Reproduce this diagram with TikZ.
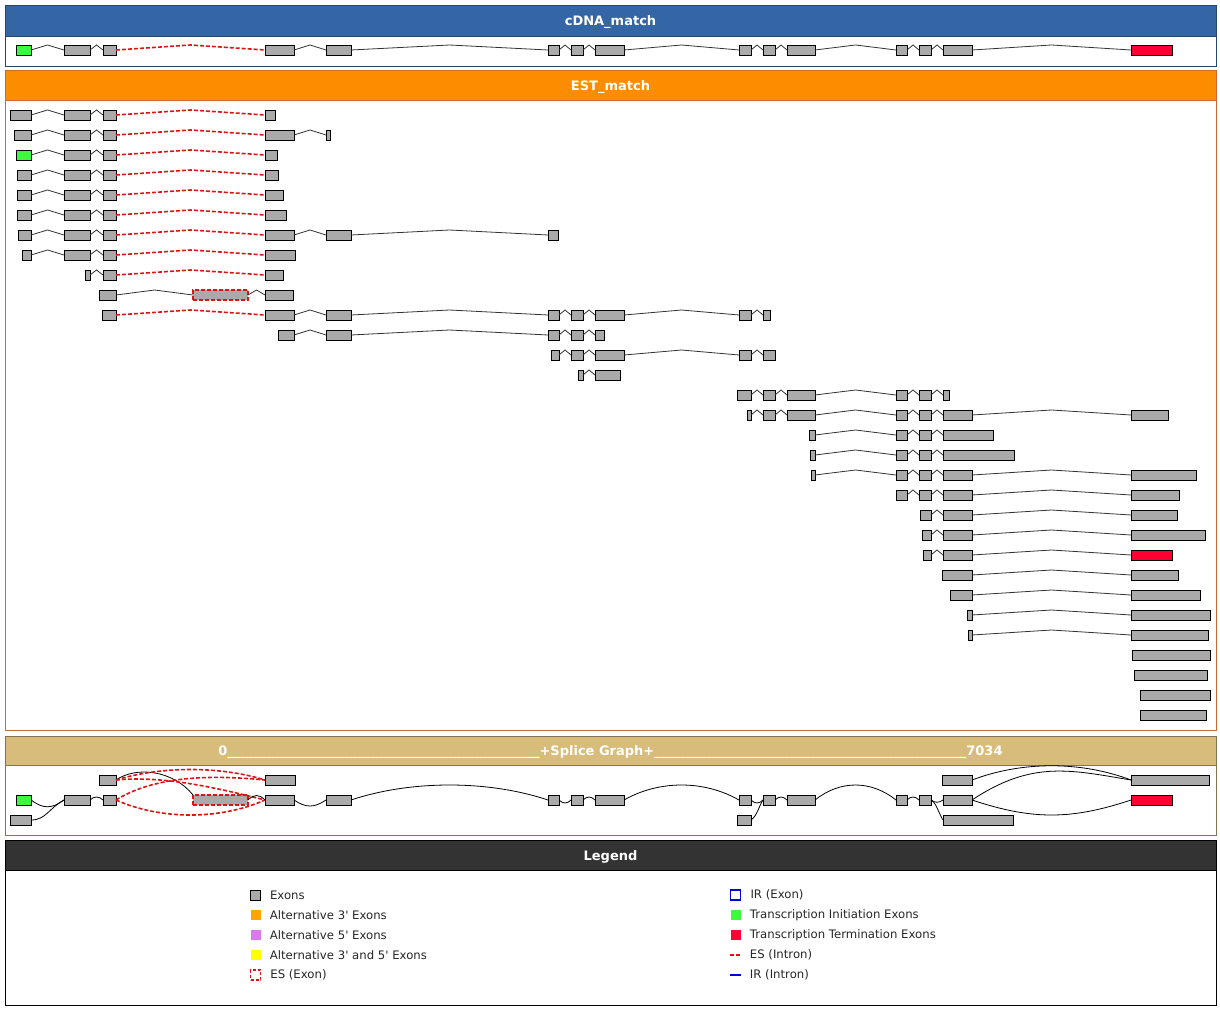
\documentclass[tikz,border=0pt]{standalone}
\usepackage{fontspec}
\setmainfont{DejaVu Sans}
\usetikzlibrary{positioning, calc}

\definecolor{exongray}{RGB}{170,170,170}
\definecolor{initgreen}{RGB}{60,250,60}
\definecolor{termred}{RGB}{255,0,51}
\definecolor{skipred}{RGB}{220,20,20}
\definecolor{cdnablue}{RGB}{52,101,164}
\definecolor{cdnaborder}{RGB}{40,70,105}
\definecolor{estorange}{RGB}{252,140,0}
\definecolor{estborder}{RGB}{205,105,50}
\definecolor{splicetan}{RGB}{216,188,124}
\definecolor{spliceborder}{RGB}{130,115,85}
\definecolor{legdark}{RGB}{51,51,51}
\definecolor{altorange}{RGB}{255,165,0}
\definecolor{altviolet}{RGB}{221,119,238}
\definecolor{altyellow}{RGB}{255,255,0}
\definecolor{irblue}{RGB}{0,0,220}

\tikzset{%
  % exons and introns
         exon/.style = {rectangle, draw=black, fill=exongray, line width=0.8pt,
                        inner sep=0pt, outer sep=0pt, minimum height=10pt},
     initexon/.style = {exon, fill=initgreen},
     termexon/.style = {exon, fill=termred},
     skipexon/.style = {exon, draw=skipred, line width=1.4pt, dash pattern=on 4pt off 2pt},
       intron/.style = {draw=black!80, line width=0.8pt},
   skipintron/.style = {draw=skipred, line width=1.6pt, dash pattern=on 4pt off 2pt},
       sgedge/.style = {draw=black, line width=0.8pt},
  % panels and legend
       header/.style = {font=\fontsize{13}{15}\selectfont\bfseries, text=white, anchor=base},
      legicon/.style = {rectangle, inner sep=0pt, minimum width=10pt, minimum height=10pt},
      legtext/.style = {font=\fontsize{11.7}{13}\selectfont, text=black!85, inner sep=0pt},
}

% exon: [style]{name}{x start}{x end}{y}
\newcommand{\ex}[5][exon]{\node[#1, minimum width=#4-#3] (#2) at ({(#3+#4)/2},#5) {};}
% intron between two exons, peak half way
\newcommand{\intr}[3][intron]{\draw[#1] (#2.east) -- ($(#2.east)!.5!(#3.west)+(0,-5)$) -- (#3.west);}
\newcommand{\us}{\_\_\_\_\_\_\_\_}
\newcommand{\q}{\textquotesingle}

\begin{document}
\begin{tikzpicture}[x=1pt, y=-1pt]
  \useasboundingbox (0,0) rectangle (1220,1025);

  % panels
  \draw[draw=cdnaborder, line width=0.8pt] (5,5) rectangle (1216,66);
  \draw[fill=cdnablue, draw=cdnaborder, line width=0.8pt] (5,5) rectangle (1216,36);
  \node[header] (cdnatitle) at (610.5,25.5) {cDNA\_match};

  \draw[draw=estborder, line width=0.8pt] (5,70) rectangle (1216,730);
  \draw[fill=estorange, draw=estborder, line width=0.8pt] (5,70) rectangle (1216,100);
  \node[header] (esttitle) at (610.5,90.5) {EST\_match};

  \draw[draw=spliceborder, line width=0.8pt] (5,736) rectangle (1216,835);
  \draw[fill=splicetan, draw=spliceborder, line width=0.8pt] (5,736) rectangle (1216,765);
  \node[header] (splicetitle) at (610.5,755.5)
       {0\us\us\us\us\us\us+Splice Graph+\us\us\us\us\us\us7034};

  \draw[draw=black, line width=0.8pt] (5,840) rectangle (1216,1005);
  \draw[fill=legdark, draw=black, line width=0.8pt] (5,840) rectangle (1216,870);
  \node[header] (legtitle) at (610.5,860.5) {Legend};

  % cDNA_match
  \ex[initexon]{c1}{16}{31}{50} \ex{c2}{64}{90}{50} \ex{c3}{103}{116}{50}
  \ex{c4}{265}{294}{50} \ex{c5}{326}{351}{50} \ex{c6}{548}{559}{50}
  \ex{c7}{571}{583}{50} \ex{c8}{595}{624}{50} \ex{c9}{739}{751}{50}
  \ex{c10}{763}{775}{50} \ex{c11}{787}{815}{50} \ex{c12}{896}{907}{50}
  \ex{c13}{919}{931}{50} \ex{c14}{943}{972}{50} \ex[termexon]{c15}{1131}{1172}{50}
  \intr{c1}{c2} \intr{c2}{c3} \intr[skipintron]{c3}{c4} \intr{c4}{c5}
  \intr{c5}{c6} \intr{c6}{c7} \intr{c7}{c8} \intr{c8}{c9} \intr{c9}{c10}
  \intr{c10}{c11} \intr{c11}{c12} \intr{c12}{c13} \intr{c13}{c14} \intr{c14}{c15}

  % EST_match
  \ex{e1a}{10}{31}{115} \ex{e1b}{64}{90}{115} \ex{e1c}{103}{116}{115} \ex{e1d}{265}{275}{115}
  \intr{e1a}{e1b} \intr{e1b}{e1c} \intr[skipintron]{e1c}{e1d}

  \ex{e2a}{14}{31}{135} \ex{e2b}{64}{90}{135} \ex{e2c}{103}{116}{135} \ex{e2d}{265}{294}{135}
  \ex{e2e}{326}{330}{135}
  \intr{e2a}{e2b} \intr{e2b}{e2c} \intr[skipintron]{e2c}{e2d} \intr{e2d}{e2e}

  \ex[initexon]{e3a}{16}{31}{155} \ex{e3b}{64}{90}{155} \ex{e3c}{103}{116}{155} \ex{e3d}{265}{277}{155}
  \intr{e3a}{e3b} \intr{e3b}{e3c} \intr[skipintron]{e3c}{e3d}

  \ex{e4a}{17}{31}{175} \ex{e4b}{64}{90}{175} \ex{e4c}{103}{116}{175} \ex{e4d}{265}{278}{175}
  \intr{e4a}{e4b} \intr{e4b}{e4c} \intr[skipintron]{e4c}{e4d}

  \ex{e5a}{17}{31}{195} \ex{e5b}{64}{90}{195} \ex{e5c}{103}{116}{195} \ex{e5d}{265}{283}{195}
  \intr{e5a}{e5b} \intr{e5b}{e5c} \intr[skipintron]{e5c}{e5d}

  \ex{e6a}{17}{31}{215} \ex{e6b}{64}{90}{215} \ex{e6c}{103}{116}{215} \ex{e6d}{265}{286}{215}
  \intr{e6a}{e6b} \intr{e6b}{e6c} \intr[skipintron]{e6c}{e6d}

  \ex{e7a}{18}{31}{235} \ex{e7b}{64}{90}{235} \ex{e7c}{103}{116}{235} \ex{e7d}{265}{294}{235}
  \ex{e7e}{326}{351}{235} \ex{e7f}{548}{558}{235}
  \intr{e7a}{e7b} \intr{e7b}{e7c} \intr[skipintron]{e7c}{e7d} \intr{e7d}{e7e} \intr{e7e}{e7f}

  \ex{e8a}{22}{31}{255} \ex{e8b}{64}{90}{255} \ex{e8c}{103}{116}{255} \ex{e8d}{265}{295}{255}
  \intr{e8a}{e8b} \intr{e8b}{e8c} \intr[skipintron]{e8c}{e8d}

  \ex{e9a}{85}{90}{275} \ex{e9b}{103}{116}{275} \ex{e9c}{265}{283}{275}
  \intr{e9a}{e9b} \intr[skipintron]{e9b}{e9c}

  \ex{e10a}{99}{116}{295} \ex[skipexon]{e10b}{193}{248}{295} \ex{e10c}{265}{293}{295}
  \intr{e10a}{e10b} \intr{e10b}{e10c}

  \ex{e11a}{102}{116}{315} \ex{e11b}{265}{294}{315} \ex{e11c}{326}{351}{315} \ex{e11d}{548}{559}{315}
  \ex{e11e}{571}{583}{315} \ex{e11f}{595}{624}{315} \ex{e11g}{739}{751}{315} \ex{e11h}{763}{770}{315}
  \intr[skipintron]{e11a}{e11b} \intr{e11b}{e11c} \intr{e11c}{e11d} \intr{e11d}{e11e}
  \intr{e11e}{e11f} \intr{e11f}{e11g} \intr{e11g}{e11h}

  \ex{e12a}{278}{294}{335} \ex{e12b}{326}{351}{335} \ex{e12c}{548}{559}{335} \ex{e12d}{571}{583}{335}
  \ex{e12e}{595}{604}{335}
  \intr{e12a}{e12b} \intr{e12b}{e12c} \intr{e12c}{e12d} \intr{e12d}{e12e}

  \ex{e13a}{551}{559}{355} \ex{e13b}{571}{583}{355} \ex{e13c}{595}{624}{355} \ex{e13d}{739}{751}{355}
  \ex{e13e}{763}{775}{355}
  \intr{e13a}{e13b} \intr{e13b}{e13c} \intr{e13c}{e13d} \intr{e13d}{e13e}

  \ex{e14a}{578}{583}{375} \ex{e14b}{595}{620}{375}
  \intr{e14a}{e14b}

  \ex{e15a}{737}{751}{395} \ex{e15b}{763}{775}{395} \ex{e15c}{787}{815}{395} \ex{e15d}{896}{907}{395}
  \ex{e15e}{919}{931}{395} \ex{e15f}{943}{949}{395}
  \intr{e15a}{e15b} \intr{e15b}{e15c} \intr{e15c}{e15d} \intr{e15d}{e15e} \intr{e15e}{e15f}

  \ex{e16a}{747}{751}{415} \ex{e16b}{763}{775}{415} \ex{e16c}{787}{815}{415} \ex{e16d}{896}{907}{415}
  \ex{e16e}{919}{931}{415} \ex{e16f}{943}{972}{415} \ex{e16g}{1131}{1168}{415}
  \intr{e16a}{e16b} \intr{e16b}{e16c} \intr{e16c}{e16d} \intr{e16d}{e16e} \intr{e16e}{e16f}
  \intr{e16f}{e16g}

  \ex{e17a}{809}{815}{435} \ex{e17b}{896}{907}{435} \ex{e17c}{919}{931}{435} \ex{e17d}{943}{993}{435}
  \intr{e17a}{e17b} \intr{e17b}{e17c} \intr{e17c}{e17d}

  \ex{e18a}{810}{815}{455} \ex{e18b}{896}{907}{455} \ex{e18c}{919}{931}{455} \ex{e18d}{943}{1014}{455}
  \intr{e18a}{e18b} \intr{e18b}{e18c} \intr{e18c}{e18d}

  \ex{e19a}{811}{815}{475} \ex{e19b}{896}{907}{475} \ex{e19c}{919}{931}{475} \ex{e19d}{943}{972}{475}
  \ex{e19e}{1131}{1196}{475}
  \intr{e19a}{e19b} \intr{e19b}{e19c} \intr{e19c}{e19d} \intr{e19d}{e19e}

  \ex{e20a}{896}{907}{495} \ex{e20b}{919}{931}{495} \ex{e20c}{943}{972}{495} \ex{e20d}{1131}{1179}{495}
  \intr{e20a}{e20b} \intr{e20b}{e20c} \intr{e20c}{e20d}

  \ex{e21a}{920}{931}{515} \ex{e21b}{943}{972}{515} \ex{e21c}{1131}{1177}{515}
  \intr{e21a}{e21b} \intr{e21b}{e21c}

  \ex{e22a}{922}{931}{535} \ex{e22b}{943}{972}{535} \ex{e22c}{1131}{1205}{535}
  \intr{e22a}{e22b} \intr{e22b}{e22c}

  \ex{e23a}{923}{931}{555} \ex{e23b}{943}{972}{555} \ex[termexon]{e23c}{1131}{1172}{555}
  \intr{e23a}{e23b} \intr{e23b}{e23c}

  \ex{e24a}{942}{972}{575} \ex{e24b}{1131}{1178}{575} \intr{e24a}{e24b}
  \ex{e25a}{950}{972}{595} \ex{e25b}{1131}{1200}{595} \intr{e25a}{e25b}
  \ex{e26a}{967}{972}{615} \ex{e26b}{1131}{1210}{615} \intr{e26a}{e26b}
  \ex{e27a}{968}{972}{635} \ex{e27b}{1131}{1208}{635} \intr{e27a}{e27b}
  \ex{e28a}{1132}{1210}{655}
  \ex{e29a}{1134}{1207}{675}
  \ex{e30a}{1140}{1210}{695}
  \ex{e31a}{1140}{1206}{715}

  % Splice graph
  \ex{gt1}{99}{116}{780} \ex{gt2}{265}{295}{780} \ex{gt3}{942}{972}{780} \ex{gt4}{1131}{1209}{780}
  \ex[initexon]{g1}{16}{31}{800} \ex{g2}{64}{90}{800} \ex{g3}{103}{116}{800}
  \ex[skipexon]{g4}{193}{248}{800} \ex{g5}{265}{294}{800} \ex{g6}{326}{351}{800}
  \ex{g7}{548}{559}{800} \ex{g8}{571}{583}{800} \ex{g9}{595}{624}{800}
  \ex{g10}{739}{751}{800} \ex{g11}{763}{775}{800} \ex{g12}{787}{815}{800}
  \ex{g13}{896}{907}{800} \ex{g14}{919}{931}{800} \ex{g15}{943}{972}{800}
  \ex[termexon]{g16}{1131}{1172}{800}
  \ex{gb1}{10}{31}{820} \ex{gb2}{737}{751}{820} \ex{gb3}{943}{1013}{820}

  \draw[sgedge] (g1.east) .. controls +(12,9) and +(-12,9) .. (g2.west);
  \draw[sgedge] (gb1.east) .. controls +(15,0) and +(-15,8) .. (g2.west);
  \draw[sgedge] (g2.east) .. controls +(4,-4) and +(-4,-4) .. (g3.west);
  \draw[sgedge] (gt1.east) .. controls +(20,-14) and +(-20,-25) .. (g4.north west);
  \draw[skipintron] (gt1.east) .. controls +(45,-14) and +(-45,-14) .. (gt2.west);
  \draw[skipintron] (g3.east) .. controls +(40,-25) and +(-50,-5) .. (gt2.west);
  \draw[skipintron] (gt1.east) .. controls +(50,-5) and +(-40,-10) .. (g5.west);
  \draw[skipintron] (g3.east) .. controls +(45,20) and +(-45,20) .. (g5.west);
  \draw[sgedge] (g4.east) .. controls +(6,-6) and +(-6,-6) .. (g5.west);
  \draw[sgedge] (g5.east) .. controls +(12,8) and +(-12,8) .. (g6.west);
  \draw[sgedge] (g6.east) .. controls +(60,-20) and +(-60,-20) .. (g7.west);
  \draw[sgedge] (g7.east) .. controls +(4,4) and +(-4,4) .. (g8.west);
  \draw[sgedge] (g8.east) .. controls +(4,-4) and +(-4,-4) .. (g9.west);
  \draw[sgedge] (g9.east) .. controls +(35,-20) and +(-35,-20) .. (g10.west);
  \draw[sgedge] (g10.east) .. controls +(4,4) and +(-4,4) .. (g11.west);
  \draw[sgedge] (gb2.east) .. controls +(6,-4) and +(-4,6) .. (g11.west);
  \draw[sgedge] (g11.east) .. controls +(4,-4) and +(-4,-4) .. (g12.west);
  \draw[sgedge] (g12.east) .. controls +(25,-20) and +(-25,-20) .. (g13.west);
  \draw[sgedge] (g13.east) .. controls +(4,-4) and +(-4,-4) .. (g14.west);
  \draw[sgedge] (g14.east) .. controls +(4,3) and +(-4,3) .. (g15.west);
  \draw[sgedge] (g14.east) .. controls +(5,2) and +(-4,-6) .. (gb3.west);
  \draw[sgedge] (gt3.east) .. controls +(50,-19) and +(-50,-19) .. (gt4.west);
  \draw[sgedge] (g15.east) .. controls +(60,-40) and +(-60,-10) .. (gt4.west);
  \draw[sgedge] (g15.east) .. controls +(60,20) and +(-60,20) .. (g16.west);

  % Legend
  \node[legicon, draw=black, fill=exongray, line width=0.8pt] (lexon) at (255.5,895) {};
  \node[legtext, right=9pt of lexon] (lexontext) {Exons};
  \node[legicon, fill=altorange] (lalt3) at (255.5,915) {};
  \node[legtext, right=9pt of lalt3] (lalt3text) {Alternative 3\q{} Exons};
  \node[legicon, fill=altviolet] (lalt5) at (255.5,935) {};
  \node[legtext, right=9pt of lalt5] (lalt5text) {Alternative 5\q{} Exons};
  \node[legicon, fill=altyellow] (lalt35) at (255.5,955) {};
  \node[legtext, right=9pt of lalt35] (lalt35text) {Alternative 3\q{} and 5\q{} Exons};
  \node[legicon, draw=skipred, line width=1.4pt, dash pattern=on 3pt off 2pt] (lesexon) at (255.5,975) {};
  \node[legtext, right=9pt of lesexon] (lesexontext) {ES (Exon)};

  \node[legicon, draw=irblue, line width=1.6pt] (lirexon) at (735.5,895) {};
  \node[legtext, right=9pt of lirexon] (lirexontext) {IR (Exon)};
  \node[legicon, fill=initgreen] (linit) at (735.5,915) {};
  \node[legtext, right=9pt of linit] (linittext) {Transcription Initiation Exons};
  \node[legicon, fill=termred] (lterm) at (735.5,935) {};
  \node[legtext, right=9pt of lterm] (ltermtext) {Transcription Termination Exons};
  \node[legicon] (lesintron) at (735.5,955) {};
  \draw[skipintron] (lesintron.west) -- (lesintron.east);
  \node[legtext, right=9pt of lesintron] (lesintrontext) {ES (Intron)};
  \node[legicon] (lirintron) at (735.5,975) {};
  \draw[irblue, line width=1.3pt] (lirintron.west) -- (lirintron.east);
  \node[legtext, right=9pt of lirintron] (lirintrontext) {IR (Intron)};
\end{tikzpicture}
\end{document}
